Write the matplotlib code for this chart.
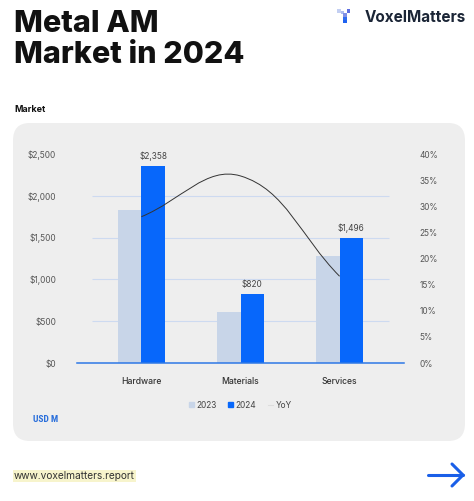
import numpy as np
import matplotlib
matplotlib.use("Agg")
import matplotlib.pyplot as plt
from matplotlib.patches import FancyBboxPatch, Rectangle
from matplotlib.path import Path
from matplotlib.patches import PathPatch
from matplotlib.lines import Line2D

categories = ["Hardware", "Materials", "Services"]
values_2023 = [1835, 610, 1282]
values_2024 = [2358, 820, 1496]
yoy = [28.0, 35.8, 16.6]
left_ticks = [0, 500, 1000, 1500, 2000, 2500]
left_labels = ["$0", "$500", "$1,000", "$1,500", "$2,000", "$2,500"]
right_ticks = [0, 5, 10, 15, 20, 25, 30, 35, 40]
right_labels = ["0%", "5%", "10%", "15%", "20%", "25%", "30%", "35%", "40%"]
value_labels = ["$2,358", "$820", "$1,496"]

W, H = 474, 501
fig = plt.figure(figsize=(W / 100, H / 100), dpi=100)
fig.patch.set_facecolor("white")

def fx(px):
    return px / W

def fy(py):
    return 1 - py / H

FONT = ["Inter", "DejaVu Sans"]
C2023 = "#c8d5e8"
C2024 = "#0767fb"

# panel
panel = FancyBboxPatch((fx(13), fy(441)), fx(465) - fx(13), fy(123) - fy(441),
                       boxstyle="round,pad=0,rounding_size=0.035",
                       transform=fig.transFigure, facecolor="#eeeeee",
                       edgecolor="none", zorder=-5)
fig.patches.append(panel)

# title
fig.text(fx(14), fy(32), "Metal AM", family=FONT, weight="heavy", fontsize=22,
         color="#111111", va="baseline", ha="left")
fig.text(fx(14), fy(63), "Market in 2024", family=FONT, weight="heavy", fontsize=22,
         color="#111111", va="baseline", ha="left")
fig.text(fx(14), fy(109), "Market", family=FONT, weight="bold", fontsize=6.5,
         color="#111111", va="center", ha="left")

# logo
fig.text(fx(466), fy(17), "VoxelMatters", family=FONT, weight="bold", fontsize=11,
         color="#1b2536", va="center", ha="right")
sq = 3.6
for (px, py, c) in [(337.4, 9.4, "#c3cff2"), (340.6, 10.6, "#aebcf0"), (343.4, 13.4, "#7f8fe6"),
                    (346.6, 9.4, "#5d6ee0"), (343.4, 17.2, "#2f6bf0"), (343.4, 19.6, "#1f62f0")]:
    fig.patches.append(Rectangle((fx(px), fy(py + sq)), sq / W, sq / H,
                                 transform=fig.transFigure, facecolor=c, edgecolor="none"))

# axes
ax = fig.add_axes([fx(77), fy(363), (404 - 77) / W, (363 - 154) / H])
ax.set_facecolor("none")
ax2 = ax.twinx()
x = np.arange(len(categories))
bw = 0.237
ax.bar(x - bw / 2, values_2023, bw, color=C2023, zorder=2, label="2023")
ax.bar(x + bw / 2, values_2024, bw, color=C2024, zorder=2, label="2024")
for xi, v, lab in zip(x, values_2024, value_labels):
    ax.text(xi + bw / 2, v + 60, lab, ha="center", va="bottom", fontsize=6,
            color="#444444", family=FONT)
ax.set_xlim(-0.65, 2.65)
ax.set_ylim(0, 2500)
for t in left_ticks[1:-1]:
    ax.hlines(t, -0.5, 2.5, color="#cddaf0", lw=0.8, zorder=1)
ax.set_yticks(left_ticks)
ax.set_yticklabels(left_labels)
ax.set_xticks(x)
ax.set_xticklabels(categories)
ax.tick_params(axis="y", length=0, pad=15, labelsize=6, labelcolor="#555555")
ax.tick_params(axis="x", length=0, pad=10, labelsize=6.2, labelcolor="#333333")
for lab in ax.get_xticklabels():
    lab.set_family(FONT)
    lab.set_weight("medium")
for lab in ax.get_yticklabels():
    lab.set_family(FONT)
for s in ax.spines.values():
    s.set_visible(False)
ax.spines["bottom"].set_visible(True)
ax.spines["bottom"].set_color("#2d78e6")
ax.spines["bottom"].set_linewidth(1.1)
ax.spines["bottom"].set_zorder(5)

ax2.set_ylim(0, 40)
ax2.set_yticks(right_ticks)
ax2.set_yticklabels(right_labels)
ax2.tick_params(axis="y", length=0, pad=11, labelsize=6, labelcolor="#555555")
for lab in ax2.get_yticklabels():
    lab.set_family(FONT)
for s in ax2.spines.values():
    s.set_visible(False)

# YoY smooth line (Chart.js-like tension spline computed in display space)
fig.canvas.draw()
pts = ax2.transData.transform(np.column_stack([x, yoy]))
t = 0.4
n = len(pts)
cps = []
for i in range(n):
    p0 = pts[max(i - 1, 0)]
    p1 = pts[i]
    p2 = pts[min(i + 1, n - 1)]
    d01 = np.hypot(*(p1 - p0))
    d12 = np.hypot(*(p2 - p1))
    s01 = d01 / (d01 + d12) if d01 + d12 else 0
    s12 = d12 / (d01 + d12) if d01 + d12 else 0
    prev_cp = p1 - t * s01 * (p2 - p0)
    next_cp = p1 + t * s12 * (p2 - p0)
    cps.append((prev_cp, next_cp))
verts = [pts[0]]
codes = [Path.MOVETO]
for i in range(n - 1):
    verts += [cps[i][1], cps[i + 1][0], pts[i + 1]]
    codes += [Path.CURVE4] * 3
inv = ax2.transData.inverted()
verts_data = inv.transform(np.array(verts))
ax2.add_patch(PathPatch(Path(verts_data, codes), facecolor="none",
                        edgecolor="#333333", lw=0.7, zorder=4))

# legend
handles = [Rectangle((0, 0), 1, 1, color=C2023), Rectangle((0, 0), 1, 1, color=C2024),
           Line2D([0], [0], color="#dddddd", lw=0.8)]
leg = fig.legend(handles, ["2023", "2024", "YoY"], loc="center",
                 bbox_to_anchor=(fx(240), fy(405)), ncol=3, frameon=False,
                 fontsize=6, handlelength=0.6, handleheight=0.6, handletextpad=0.3,
                 columnspacing=1.4, prop={"family": FONT, "size": 6})
for txt in leg.get_texts():
    txt.set_color("#444444")

fig.text(fx(33), fy(420), "USD M",
         family=["Roboto Condensed", "Liberation Sans Narrow", "DejaVu Sans"],
         stretch="condensed", weight="bold", fontsize=6.8, color="#2a6fdb",
         va="center", ha="left")

# footer
fig.text(fx(14), fy(476), "www.voxelmatters.report", family=FONT, fontsize=7.3,
         color="#333333", va="center", ha="left",
         bbox=dict(boxstyle="square,pad=0.1", facecolor="#f7f4cc", edgecolor="none"))
fig.lines.append(Line2D([fx(428), fx(463)], [fy(475), fy(475)], transform=fig.transFigure,
                        color="#1a5fe8", lw=2.2, solid_capstyle="round"))
fig.lines.append(Line2D([fx(452), fx(463), fx(452)], [fy(464), fy(475), fy(486)],
                        transform=fig.transFigure, color="#1a5fe8", lw=2.2,
                        solid_capstyle="round", solid_joinstyle="miter"))

fig.savefig("out.png", dpi=100, facecolor="white")
